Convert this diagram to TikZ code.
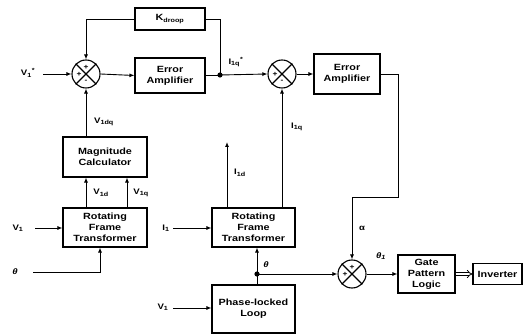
\documentclass[tikz,border=0pt]{standalone}
\usepackage{fontspec}
\setmainfont{Liberation Sans}[FakeStretch=1.2]
\usetikzlibrary{arrows.meta,calc}
\newcommand{\sbs}[1]{\textsubscript{#1}}
\begin{document}
\begin{tikzpicture}[x=1pt,y=-1pt,
  >={Latex[length=5pt,width=4pt]},
  line width=0.9pt,
  blk/.style={draw,line width=1.1pt,align=center,inner sep=0pt,
    font=\bfseries\fontsize{9}{11}\selectfont},
  sumc/.style={draw,circle,line width=1.1pt,minimum size=28pt,inner sep=0pt},
  sgn/.style={font=\bfseries\fontsize{7}{7}\selectfont,inner sep=0pt},
  lbl/.style={font=\bfseries\fontsize{8}{9}\selectfont,inner sep=0pt}]
\useasboundingbox (0,0) rectangle (530,336);

% blocks
\node[blk,minimum width=70pt,minimum height=22pt] (kd) at (170,19) {K\sbs{droop}};
\node[blk,minimum width=70pt,minimum height=35pt] (ea1) at (170,75.5) {Error\\Amplifier};
\node[blk,minimum width=66pt,minimum height=40pt] (ea2) at (347,74) {Error\\Amplifier};
\node[blk,minimum width=84pt,minimum height=40pt] (mc) at (105,157) {Magnitude\\Calculator};
\node[blk,minimum width=84pt,minimum height=39pt] (rft1) at (105,227.5) {Rotating\\Frame\\Transformer};
\node[blk,minimum width=83pt,minimum height=39pt] (rft2) at (253.5,227.5) {Rotating\\Frame\\Transformer};
\node[blk,minimum width=83pt,minimum height=48pt] (pll) at (253.5,309) {Phase-locked\\Loop};
\node[blk,minimum width=57pt,minimum height=38pt] (gpl) at (426.5,274) {Gate\\Pattern\\Logic};
\node[blk,minimum width=49pt,minimum height=21pt] (inv) at (497.5,274) {Inverter};

% summing junctions
\node[sumc] (s1) at (86,74) {};
\node[sumc] (s2) at (282,74) {};
\node[sumc] (s3) at (352,274) {};
\foreach \s in {s1,s2,s3}{
  \draw[line width=1.1pt] (\s.north east) -- (\s.south west);
  \draw[line width=1.1pt] (\s.north west) -- (\s.south east);
}
\node[sgn] at ($(s1)+(0,-7)$) {+};
\node[sgn] at ($(s1)+(-7,0)$) {+};
\node[sgn] at ($(s1)+(0,7)$) {-};
\node[sgn] at ($(s2)+(-7,0)$) {+};
\node[sgn] at ($(s2)+(0,7)$) {-};
\node[sgn] at ($(s3)+(0,-7)$) {+};
\node[sgn] at ($(s3)+(-7,0)$) {+};

% coordinates
\coordinate (j1) at (220,75);
\coordinate (j2) at (257,274);
\coordinate (vin) at (43,74);
\coordinate (v1in) at (35,228);
\coordinate (thin) at (33,272);
\coordinate (i1in) at (173,228);
\coordinate (v1pll) at (173,308);
\coordinate (i1d) at (227,142);
\coordinate (c1) at (398,197);
\fill (j1) circle (2.6pt);
\fill (j2) circle (2.6pt);

% input labels
\node[lbl] at (28,73) {V\sbs{1}\textsuperscript{*}};
\node[lbl] at (18,228) {V\sbs{1}};
\node[lbl] at (15,272) {\itshape θ};
\node[lbl] at (166,228) {I\sbs{1}};
\node[lbl] at (163,307) {V\sbs{1}};

% connectors
\draw[->] (vin) -- (s1.west);
\draw[->] (s1.east) -- (ea1.west);
\draw (ea1.east |- j1) -- (j1);
\draw[->] (j1) -- (s2.west);
\draw (j1) |- (kd.east);
\draw[->] (kd.west) -| (s1.north);
\draw[->] (mc.north -| s1) -- (s1.south);
\draw[->] ([xshift=-19pt]rft1.north) -- ([xshift=-19pt]mc.south);
\draw[->] ([xshift=22pt]rft1.north) -- ([xshift=22pt]mc.south);
\draw[->] (v1in) -- (rft1.west |- v1in);
\draw[->] (thin) -| ([xshift=-5pt]rft1.south);
\draw[->] (i1in) -- (rft2.west |- i1in);
\draw[->] (v1pll) -- (pll.west |- v1pll);
\draw (pll.north -| j2) -- (j2);
\draw[->] (j2) -- (rft2.south -| j2);
\draw[->] (j2) -- (s3.west);
\draw[->] (rft2.north -| i1d) -- (i1d);
\draw[->] (rft2.north -| s2) -- (s2.south);
\draw[->] (s2.east) -- (ea2.west);
\draw[->] (ea2.east) -| (c1) -| (s3.north);
\draw[->] (s3.east) -- (gpl.west);
\draw[-{Implies},double,double distance=2pt,line width=0.8pt] (gpl.east) -- (inv.west);

% signal labels
\node[lbl] at (236,62) {I\sbs{1q}\textsuperscript{*}};
\node[lbl] at (104,122) {V\sbs{1dq}};
\node[lbl] at (101,193) {V\sbs{1d}};
\node[lbl] at (141,193) {V\sbs{1q}};
\node[lbl] at (240,173) {I\sbs{1d}};
\node[lbl] at (297,127) {I\sbs{1q}};
\node[lbl] at (266,265) {\itshape θ};
\node[lbl] at (362,228) {α};
\node[lbl] at (381,256) {\itshape θ\sbs{1}};
\end{tikzpicture}
\end{document}
